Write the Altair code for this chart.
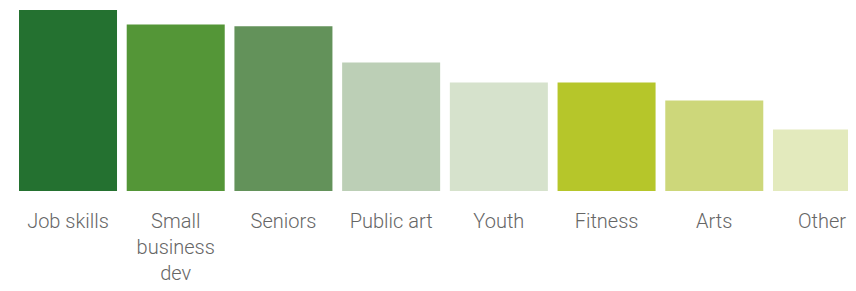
import altair as alt
import pandas as pd

categories = ["Job skills", "Small business dev", "Seniors", "Public art", "Youth", "Fitness", "Arts", "Other"]
values = [100, 92, 91, 71, 60, 60, 50, 34]
colors = ["#247130", "#549637", "#63925a", "#bccfb6", "#d6e2cc", "#b6c62a", "#cdd77a", "#e3eabd"]

df = pd.DataFrame({"category": categories, "value": values})

chart = alt.Chart(df).mark_bar(clip=True).encode(
    x=alt.X("category:N", sort=categories,
            scale=alt.Scale(paddingInner=0.09, paddingOuter=0, range=[0, 852]),
            axis=alt.Axis(title=None, domain=False, ticks=False, labelAngle=0,
                          labelFont="Roboto", labelFontWeight=300, labelFontSize=20,
                          labelColor="#666666", labelPadding=20, labelLineHeight=26,
                          labelExpr="datum.value == 'Small business dev' ? ['Small', 'business', 'dev'] : datum.value")),
    y=alt.Y("value:Q", scale=alt.Scale(domain=[0, 100], nice=False), axis=None),
    color=alt.Color("category:N", sort=categories,
                    scale=alt.Scale(domain=categories, range=colors), legend=None),
).properties(
    width=829, height=181,
    padding={"left": 11, "top": 2, "right": 0, "bottom": 92},
    autosize=alt.AutoSizeParams(type="none"),
).configure_view(stroke=None)

chart.save("out.html", embed_options={"renderer": "svg", "actions": False})
